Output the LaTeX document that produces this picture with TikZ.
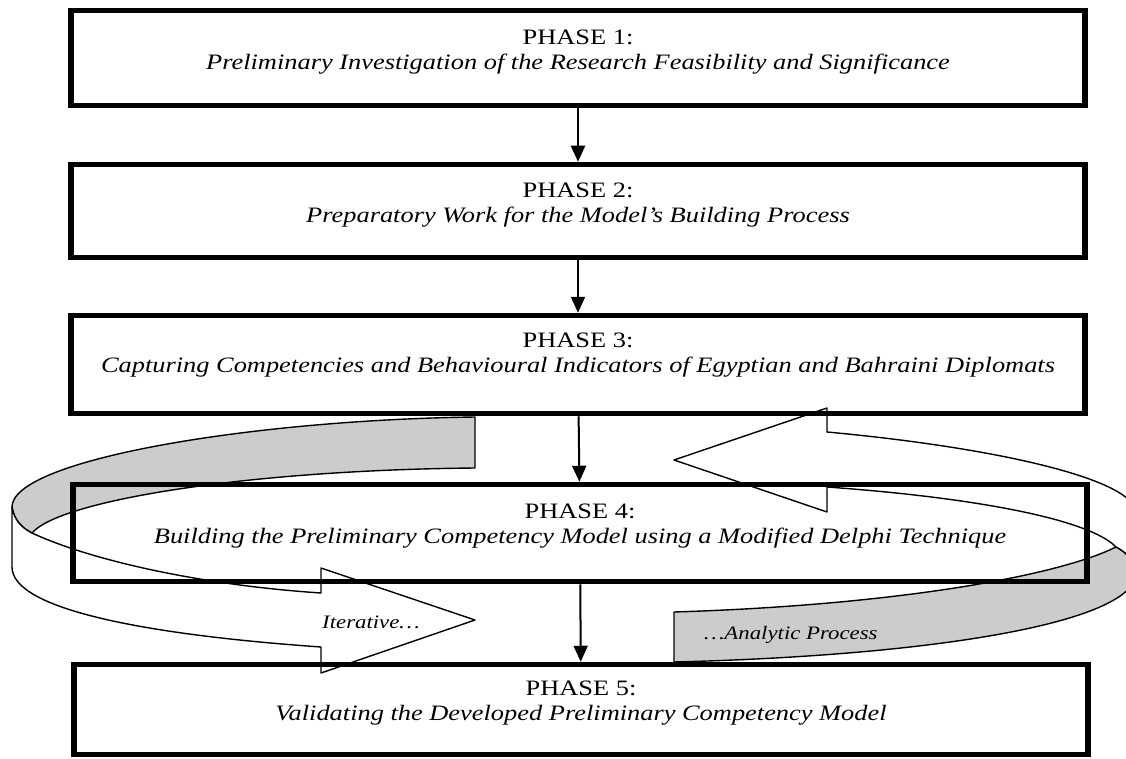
\documentclass[tikz,border=0pt]{standalone}
\usepackage{fontspec}
\setmainfont[FakeStretch=1.2]{Liberation Serif}
\usetikzlibrary{arrows.meta,positioning}
\definecolor{ribbongray}{HTML}{CCCCCC}
\tikzset{
    phase/.style={
           rectangle,
           draw=black,
           line width=5.5pt,
           minimum width=1014pt,
           inner sep=0pt,
           },
    phasetext/.style={
           align=center,
           inner sep=0pt,
           font=\fontsize{22}{25}\selectfont,
           },
}

\begin{document}
\begin{tikzpicture}[
  x=1pt,y=-1pt,
  >={Triangle[length=16pt,width=14pt]},
  flow/.style={->,line width=2pt},
  ribbon/.style={line width=1.4pt,line join=round},
  back/.style={ribbon,fill=ribbongray},
  front/.style={ribbon,fill=white},
  loopnote/.style={font=\fontsize{19}{22}\selectfont\itshape,inner sep=0pt}]
\useasboundingbox (0,0) rectangle (1126,759);
% the two ribbon arrows sit under the boxes
\begin{scope}
\clip (0,0) rectangle (1126,759);
\draw[back] (475,417) .. controls (250,420) and (12,460) .. (12,507)
  .. controls (14,520) and (22,528) .. (32,533)
  .. controls (60,500) and (250,470) .. (475,468) -- cycle;
\draw[front] (12,507) .. controls (14,520) and (22,528) .. (32,533)
  .. controls (90,560) and (200,585) .. (321,593)
  -- (321,568) -- (475,620) -- (321,673) -- (321,647)
  .. controls (150,635) and (12,610) .. (12,567) -- cycle;
\draw[back] (674,612) .. controls (900,605) and (1060,575) .. (1116,547)
  .. controls (1126,552) and (1134,560) .. (1136,573)
  .. controls (1136,620) and (950,655) .. (674,662) -- cycle;
\draw[front] (1136,573) .. controls (1134,560) and (1126,552) .. (1116,547)
  .. controls (1090,520) and (980,498) .. (827,487)
  -- (827,512) -- (674,460) -- (827,408) -- (827,432)
  .. controls (1000,448) and (1136,480) .. (1136,513) -- cycle;
\end{scope}
\node[loopnote,anchor=base west] (iterative) at (322,628) {Iterative…};
\node[loopnote,anchor=base west] (analytic) at (704,639) {…Analytic Process};

\node[phase,minimum height=95pt] (phase1) at (578,58) {};
\node[phase,minimum height=93pt] (phase2) at (578,211) {};
\node[phase,minimum height=98pt] (phase3) at (578,364.5) {};
\node[phase,minimum height=97pt] (phase4) at (580,533) {};
\node[phase,minimum height=90pt] (phase5) at (581,709.5) {};

\node[phasetext,below=22pt of phase1.north] (text1) {PHASE 1:\\\textit{Preliminary Investigation of the Research Feasibility and Significance}};
\node[phasetext,below=21pt of phase2.north] (text2) {PHASE 2:\\\textit{Preparatory Work for the Model's Building Process}};
\node[phasetext,below=20pt of phase3.north] (text3) {PHASE 3:\\\textit{Capturing Competencies and Behavioural Indicators of Egyptian and Bahraini Diplomats}};
\node[phasetext,below=22pt of phase4.north] (text4) {PHASE 4:\\\textit{Building the Preliminary Competency Model using a Modified Delphi Technique}};
\node[phasetext,below=19pt of phase5.north] (text5) {PHASE 5:\\\textit{Validating the Developed Preliminary Competency Model}};

\path[flow] (phase1) edge (phase2)
      (phase2) edge (phase3)
      (phase3) edge (phase4)
      (phase4) edge (phase5);
\end{tikzpicture}
\end{document}
